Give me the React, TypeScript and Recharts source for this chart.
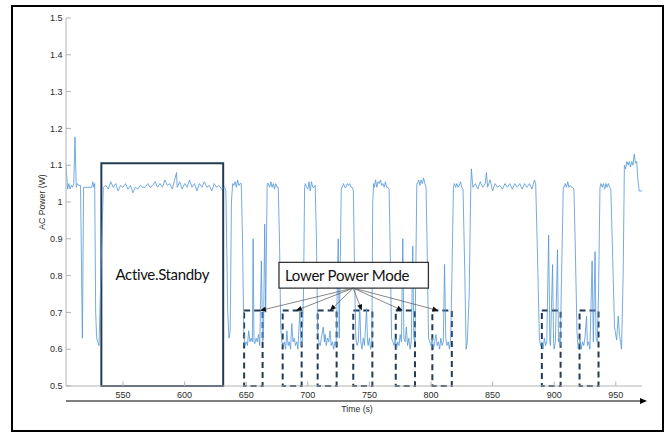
import React from 'react';
import {
  LineChart,
  Line,
  XAxis,
  YAxis,
  ReferenceArea,
  ReferenceLine,
  Label,
} from 'recharts';

// [time (s), AC power (W)], grouped by phase
const warmUp: [number, number][] = [
  [503.7, 1.1], [505, 1.035], [506, 1.05], [507, 1.035], [508, 1.045], [509, 1.04], [510, 1.05],
  [511, 1.177], [512, 1.04], [513, 1.05], [514, 1.045], [515.5, 1.045], [517, 0.63], [518, 1.04],
  [524.6, 1.04], [525.5, 1.055], [526.3, 1.04], [527, 1.05], [527.8, 0.7], [528.6, 0.63],
  [529.5, 0.62], [530.5, 0.61], [532, 0.8], [534, 1.04],
];

const standby: [number, number][] = [
  [536, 1.045], [538, 1.035], [540, 1.055], [542, 1.04], [544, 1.05], [546, 1.03], [548, 1.045],
  [550, 1.04], [552, 1.05], [554, 1.035], [556, 1.045], [558, 1.025], [560, 1.04], [562, 1.035],
  [564, 1.045], [566, 1.04], [568, 1.04], [570, 1.05], [572, 1.04], [574, 1.045], [576, 1.055],
  [578, 1.04], [580, 1.05], [582, 1.04], [584, 1.06], [586, 1.045], [588, 1.05], [590, 1.035],
  [593.4, 1.08], [594, 1.04], [596, 1.055], [598, 1.035], [600, 1.05], [602, 1.04], [604, 1.06],
  [606, 1.04], [608, 1.05], [610, 1.03], [612, 1.05], [614, 1.04], [616, 1.055], [618, 1.04],
  [620, 1.045], [622, 1.03], [624, 1.05], [626, 1.04], [628, 1.045], [630, 1.035], [632.5, 1.04],
];

const cyclesA: [number, number][] = [
  [633.5, 1.03], [635, 0.7], [636, 0.63], [637, 0.65], [638, 1.0], [639, 1.05], [640, 1.045],
  [641, 1.055], [642, 1.04], [643, 1.06], [644, 1.045], [645, 1.05], [646, 1.05], [647, 0.9],
  [648, 0.65], [649, 0.61], [650, 0.62], [651, 0.61], [652, 0.65], [653, 0.62], [654, 0.63],
  [655, 0.62], [655.6, 0.9], [656.3, 0.62], [657, 0.615], [658, 0.63], [659, 0.62], [660, 0.64],
  [661, 0.61], [662.3, 0.84], [663.3, 0.62], [664, 0.63], [665, 0.94], [665.8, 0.7], [667, 1.05],
  [668, 1.05], [669, 1.04], [670, 1.055], [671, 1.04], [672, 1.05], [673, 1.035], [674, 1.05],
  [675, 1.04], [676, 1.04], [677, 0.9], [678, 0.66], [679, 0.62], [680, 0.61], [681, 0.62],
  [682, 0.6], [683, 0.65], [684, 0.61], [685, 0.62], [686, 0.6], [687, 0.67], [688, 0.62],
  [689, 0.63], [690, 0.61], [691, 0.62], [692, 0.6], [693.6, 0.71], [694.5, 0.61], [695.5, 0.62],
  [696.5, 0.75], [697.4, 1.04], [698, 1.05], [699, 1.04], [700, 1.035], [701, 1.055], [702, 1.03],
  [703, 1.055], [704, 1.04], [705, 1.04], [706, 1.045], [707, 0.9], [708, 0.65], [709, 0.62],
  [710, 0.61], [711, 0.63], [712.5, 0.66], [713.5, 0.62], [714, 0.64], [715, 0.61], [716, 0.63],
  [717, 0.62], [718, 0.65], [719, 0.61], [720, 0.62], [721, 0.6], [722, 0.62], [723, 0.61],
  [724.7, 0.9], [725.5, 0.63], [727.2, 1.04], [728, 1.04], [729, 1.05], [730, 1.04], [731, 1.04],
  [732, 1.05], [733, 1.045], [734, 1.05], [735, 1.04], [736, 1.04], [737, 1.03], [738, 0.8],
  [739, 0.63],
];

const cyclesB: [number, number][] = [
  [740, 0.61], [741, 0.62], [742.2, 0.72], [743, 0.62], [744, 0.6], [745, 0.63], [746, 0.61],
  [747.7, 0.71], [748.5, 0.62], [749, 0.61], [750, 0.63], [751, 0.6], [752, 0.62], [752.7, 1.0],
  [753.5, 1.05], [754, 1.04], [755, 1.06], [756, 1.04], [757, 1.055], [758, 1.05], [759, 1.06],
  [760, 1.045], [761, 1.05], [762, 1.04], [763, 1.055], [764, 1.04], [765, 1.04], [766, 1.035],
  [767, 0.85], [768, 0.63], [769, 0.62], [770, 0.61], [771, 0.63], [772, 0.6], [773, 0.62],
  [774, 0.61], [775, 0.64], [776, 0.62], [777.1, 0.9], [778, 0.63], [779, 0.62], [780, 0.66],
  [781, 0.61], [782, 0.63], [783, 0.6], [784, 0.62], [785.2, 0.88], [786, 0.63], [787, 0.62],
  [788.5, 1.05], [789, 1.05], [790, 1.06], [791, 1.045], [792, 1.06], [793, 1.05], [794, 1.065],
  [795, 1.05], [796, 1.04], [797, 0.85], [798, 0.63], [799, 0.62], [800, 0.61], [801, 0.63],
  [802, 0.6], [803, 0.62], [804, 0.64], [805, 0.61], [806, 0.62], [807, 0.6], [808, 0.63],
  [809, 0.61], [810, 0.62], [811, 0.83], [812, 0.63], [813, 0.61], [814, 0.62], [815, 0.6],
  [816, 0.63], [817, 0.8], [818.2, 1.04], [819, 1.05], [820, 1.04], [821, 1.05], [822, 1.04],
  [823, 1.045], [824, 1.055], [825, 1.04], [826, 1.035], [827.5, 0.8], [828.5, 0.6], [829.5, 0.62],
  [831, 0.75], [832.3, 1.04], [832.8, 1.09],
];

const longRun: [number, number][] = [
  [834, 1.04], [836, 1.05], [838, 1.035], [840, 1.055], [842, 1.04], [844, 1.05], [845, 1.08],
  [846, 1.04], [848, 1.06], [850, 1.03], [852, 1.05], [854, 1.04], [856, 1.045], [858, 1.035],
  [860, 1.05], [862, 1.04], [864, 1.05], [866, 1.035], [868, 1.05], [870, 1.04], [872, 1.05],
  [874, 1.035], [876, 1.05], [878, 1.04], [880, 1.05], [882, 1.035], [884, 1.06], [885, 1.05],
  [886.5, 0.85], [888, 0.63], [889, 0.61],
];

const cyclesC: [number, number][] = [
  [890, 0.62], [891, 0.6], [892, 0.63], [893, 0.61], [894, 0.62], [895.5, 0.91], [896.5, 0.62],
  [897, 0.61], [898.7, 0.83], [899.5, 0.62], [900, 0.6], [901, 0.62], [902.7, 0.87], [903.5, 0.62],
  [904, 0.63], [905, 0.61], [906, 0.8], [907.4, 1.04], [908, 1.04], [909, 1.05], [910, 1.04],
  [911, 1.055], [912, 1.04], [913, 1.045], [914, 1.04], [915, 1.04], [916, 1.035], [917, 0.9],
  [918.5, 0.65], [919.5, 0.6], [920, 0.61], [921, 0.63], [922, 0.6], [923, 0.62], [924, 0.61],
  [925, 0.63], [926.3, 0.69], [927, 0.61], [928, 0.62], [929, 0.6], [930.8, 0.84], [931.8, 0.62],
  [933.2, 0.865], [934, 0.63], [935, 0.62], [936, 0.75], [937.2, 1.04], [938, 1.05], [939, 1.04],
  [940, 1.05], [941, 1.035], [942, 1.05], [943, 1.04], [944, 1.05], [945, 1.04], [946, 1.035],
  [947.5, 0.85], [949, 0.66], [950.7, 0.625], [952, 0.69], [953, 0.64], [954.7, 0.6], [956, 0.8],
  [957, 1.1], [958, 1.09], [959, 1.11], [960, 1.1], [961, 1.11], [962, 1.095], [963, 1.11],
  [964, 1.1], [965, 1.13], [966, 1.105], [967, 1.11], [968, 1.06], [969, 1.03], [971.3, 1.03],
];

const xTicks = [550, 600, 650, 700, 750, 800, 850, 900, 950];
const yTicks = [0.5, 0.6, 0.7, 0.8, 0.9, 1.0, 1.1, 1.2, 1.3, 1.4, 1.5];
const xDomain: [number, number] = [503.7, 971.3];
const yDomain: [number, number] = [0.5, 1.5];

// annotation regions (data units)
const standbyBox = { x1: 532.4, x2: 631.3, y1: 0.5, y2: 1.105 };
const lowPowerBoxes: [number, number][] = [
  [648.3, 663.3], [679.6, 695], [708, 723.4], [736.9, 752.4],
  [771.4, 787], [801.1, 816.9], [890, 905.2], [920.6, 936],
];
const lowPowerTop = 0.705;
const calloutBox = { x1: 676.6, x2: 797.9, y1: 0.766, y2: 0.836 };
const calloutOrigin = { x: 736.9, y: 0.766 };
const arrowTips = [661.1, 690.4, 718, 743.8, 777.1, 806];

const data = [...warmUp, ...standby, ...cyclesA, ...cyclesB, ...longRun, ...cyclesC].map(
  ([t, p]) => ({ t, p }),
);

const AXIS = '#b3b3b3';
const TXT = '#2b2b2b';
const BOX = '#243b53';
const FONT = '"Liberation Sans", Arial, sans-serif';

const fmtY = (v: number) => (Math.abs(v - 1) < 1e-9 ? '1' : v.toFixed(1));

function BottomTick({ x, y, payload }: any) {
  return (
    <g>
      <line x1={x} x2={x} y1={y} y2={y - 4.5} stroke={AXIS} />
      <text x={x} y={y + 12} textAnchor="middle" fontSize={9} fill={TXT} fontFamily={FONT}>
        {payload.value}
      </text>
    </g>
  );
}

function TopTick({ x, y }: any) {
  return <line x1={x} x2={x} y1={y} y2={y + 5.5} stroke={AXIS} />;
}

function LeftTick({ x, y, payload }: any) {
  return (
    <g>
      <line x1={x} x2={x + 5} y1={y} y2={y} stroke={AXIS} />
      <text x={x - 3.5} y={y + 3.2} textAnchor="end" fontSize={9} fill={TXT} fontFamily={FONT}>
        {fmtY(payload.value)}
      </text>
    </g>
  );
}

function RightTick({ x, y }: any) {
  return <line x1={x} x2={x - 2} y1={y} y2={y} stroke="#c8c8c8" />;
}

function YTitle({ viewBox }: any) {
  const cx = 42;
  const cy = viewBox.y + viewBox.height / 2;
  return (
    <text
      x={cx}
      y={cy}
      transform={`rotate(-90 ${cx} ${cy})`}
      textAnchor="middle"
      dominantBaseline="central"
      fontSize={8.7}
      fill={TXT}
      fontFamily={FONT}
    >
      AC Power (W)
    </text>
  );
}

function TimeAxisDecor({ viewBox }: any) {
  const { x, y, width } = viewBox;
  const ex = x + width + 1;
  return (
    <g>
      <polygon points={`${ex + 4},${y} ${ex - 3},${y - 3} ${ex - 3},${y + 3}`} fill="#000" />
      <text x={357} y={y + 10.5} textAnchor="middle" fontSize={8.7} fill={TXT} fontFamily={FONT}>
        Time (s)
      </text>
    </g>
  );
}

function ArrowShape(props: any) {
  const { x1, y1, x2, y2 } = props;
  const ang = Math.atan2(y2 - y1, x2 - x1);
  const L = 6;
  const W = 2.6;
  const bx = x2 - L * Math.cos(ang);
  const by = y2 - L * Math.sin(ang);
  const px = -Math.sin(ang) * W;
  const py = Math.cos(ang) * W;
  return (
    <g>
      <line x1={x1} y1={y1} x2={bx} y2={by} stroke="#555" strokeWidth={0.7} />
      <polygon points={`${x2},${y2} ${bx + px},${by + py} ${bx - px},${by - py}`} fill="#111" />
    </g>
  );
}

export default function App() {
  return (
    <div style={{ position: 'absolute', left: 0, top: 0, width: 667, height: 432, background: '#fff' }}>
      <div
        style={{
          position: 'absolute',
          left: 11,
          top: 5,
          width: 653,
          height: 427,
          boxSizing: 'border-box',
          border: '2.5px solid #000',
        }}
      />
      <div style={{ position: 'absolute', left: 0, top: 0 }}>
        <LineChart width={667} height={432} data={data} margin={{ top: 18, right: 24, bottom: 0, left: 0 }}>
          <XAxis
            dataKey="t"
            type="number"
            domain={xDomain}
            allowDataOverflow
            ticks={xTicks}
            tick={<BottomTick />}
            tickSize={0}
            tickMargin={0}
            tickLine={false}
            axisLine={{ stroke: AXIS }}
            height={15}
            interval={0}
          />
          <XAxis
            xAxisId="arrow"
            dataKey="t"
            type="number"
            domain={xDomain}
            allowDataOverflow
            tick={false}
            tickLine={false}
            axisLine={{ stroke: '#000', strokeWidth: 1.2 }}
            height={31}
            label={<Label content={<TimeAxisDecor />} />}
          />
          <XAxis
            xAxisId="top"
            orientation="top"
            dataKey="t"
            type="number"
            domain={xDomain}
            allowDataOverflow
            ticks={xTicks}
            tick={<TopTick />}
            tickSize={0}
            tickMargin={0}
            tickLine={false}
            axisLine={{ stroke: AXIS }}
            height={0}
            interval={0}
          />
          <YAxis
            type="number"
            domain={yDomain}
            allowDataOverflow
            ticks={yTicks}
            tick={<LeftTick />}
            tickSize={0}
            tickMargin={0}
            tickLine={false}
            axisLine={{ stroke: AXIS }}
            width={66}
            interval={0}
            label={<Label content={<YTitle />} />}
          />
          <YAxis
            yAxisId="right"
            orientation="right"
            type="number"
            domain={yDomain}
            ticks={yTicks}
            tick={<RightTick />}
            tickSize={0}
            tickMargin={0}
            tickLine={false}
            axisLine={false}
            width={1}
            interval={0}
          />
          <Line
            dataKey="p"
            type="linear"
            stroke="#5296d8"
            strokeWidth={0.8}
            dot={false}
            isAnimationActive={false}
          />
          <ReferenceArea
            x1={standbyBox.x1}
            x2={standbyBox.x2}
            y1={standbyBox.y1}
            y2={standbyBox.y2}
            fill="none"
            fillOpacity={0}
            stroke={BOX}
            strokeWidth={2}
            label={{
              value: 'Active.Standby',
              position: 'center',
              fill: '#111',
              fontSize: 15,
              fontFamily: 'Lato',
              letterSpacing: -0.35,
            }}
          />
          {lowPowerBoxes.map(([a, b]) => (
            <ReferenceArea
              key={a}
              x1={a}
              x2={b}
              y1={0.5}
              y2={lowPowerTop}
              fill="none"
              fillOpacity={0}
              stroke={BOX}
              strokeWidth={2}
              strokeDasharray="6 4"
            />
          ))}
          <ReferenceArea
            x1={calloutBox.x1}
            x2={calloutBox.x2}
            y1={calloutBox.y1}
            y2={calloutBox.y2}
            fill="#fff"
            fillOpacity={1}
            stroke="#333"
            strokeWidth={1.3}
            zIndex={1000}
            label={{
              value: 'Lower Power Mode',
              position: 'insideLeft',
              offset: 6,
              fill: '#111',
              fontSize: 15,
              fontFamily: 'Lato',
              letterSpacing: -0.25,
            }}
          />
          {arrowTips.map((tx) => (
            <ReferenceLine
              key={tx}
              segment={[
                { x: calloutOrigin.x, y: calloutOrigin.y },
                { x: tx, y: lowPowerTop },
              ]}
              shape={<ArrowShape />}
              zIndex={1100}
            />
          ))}
        </LineChart>
      </div>
    </div>
  );
}
